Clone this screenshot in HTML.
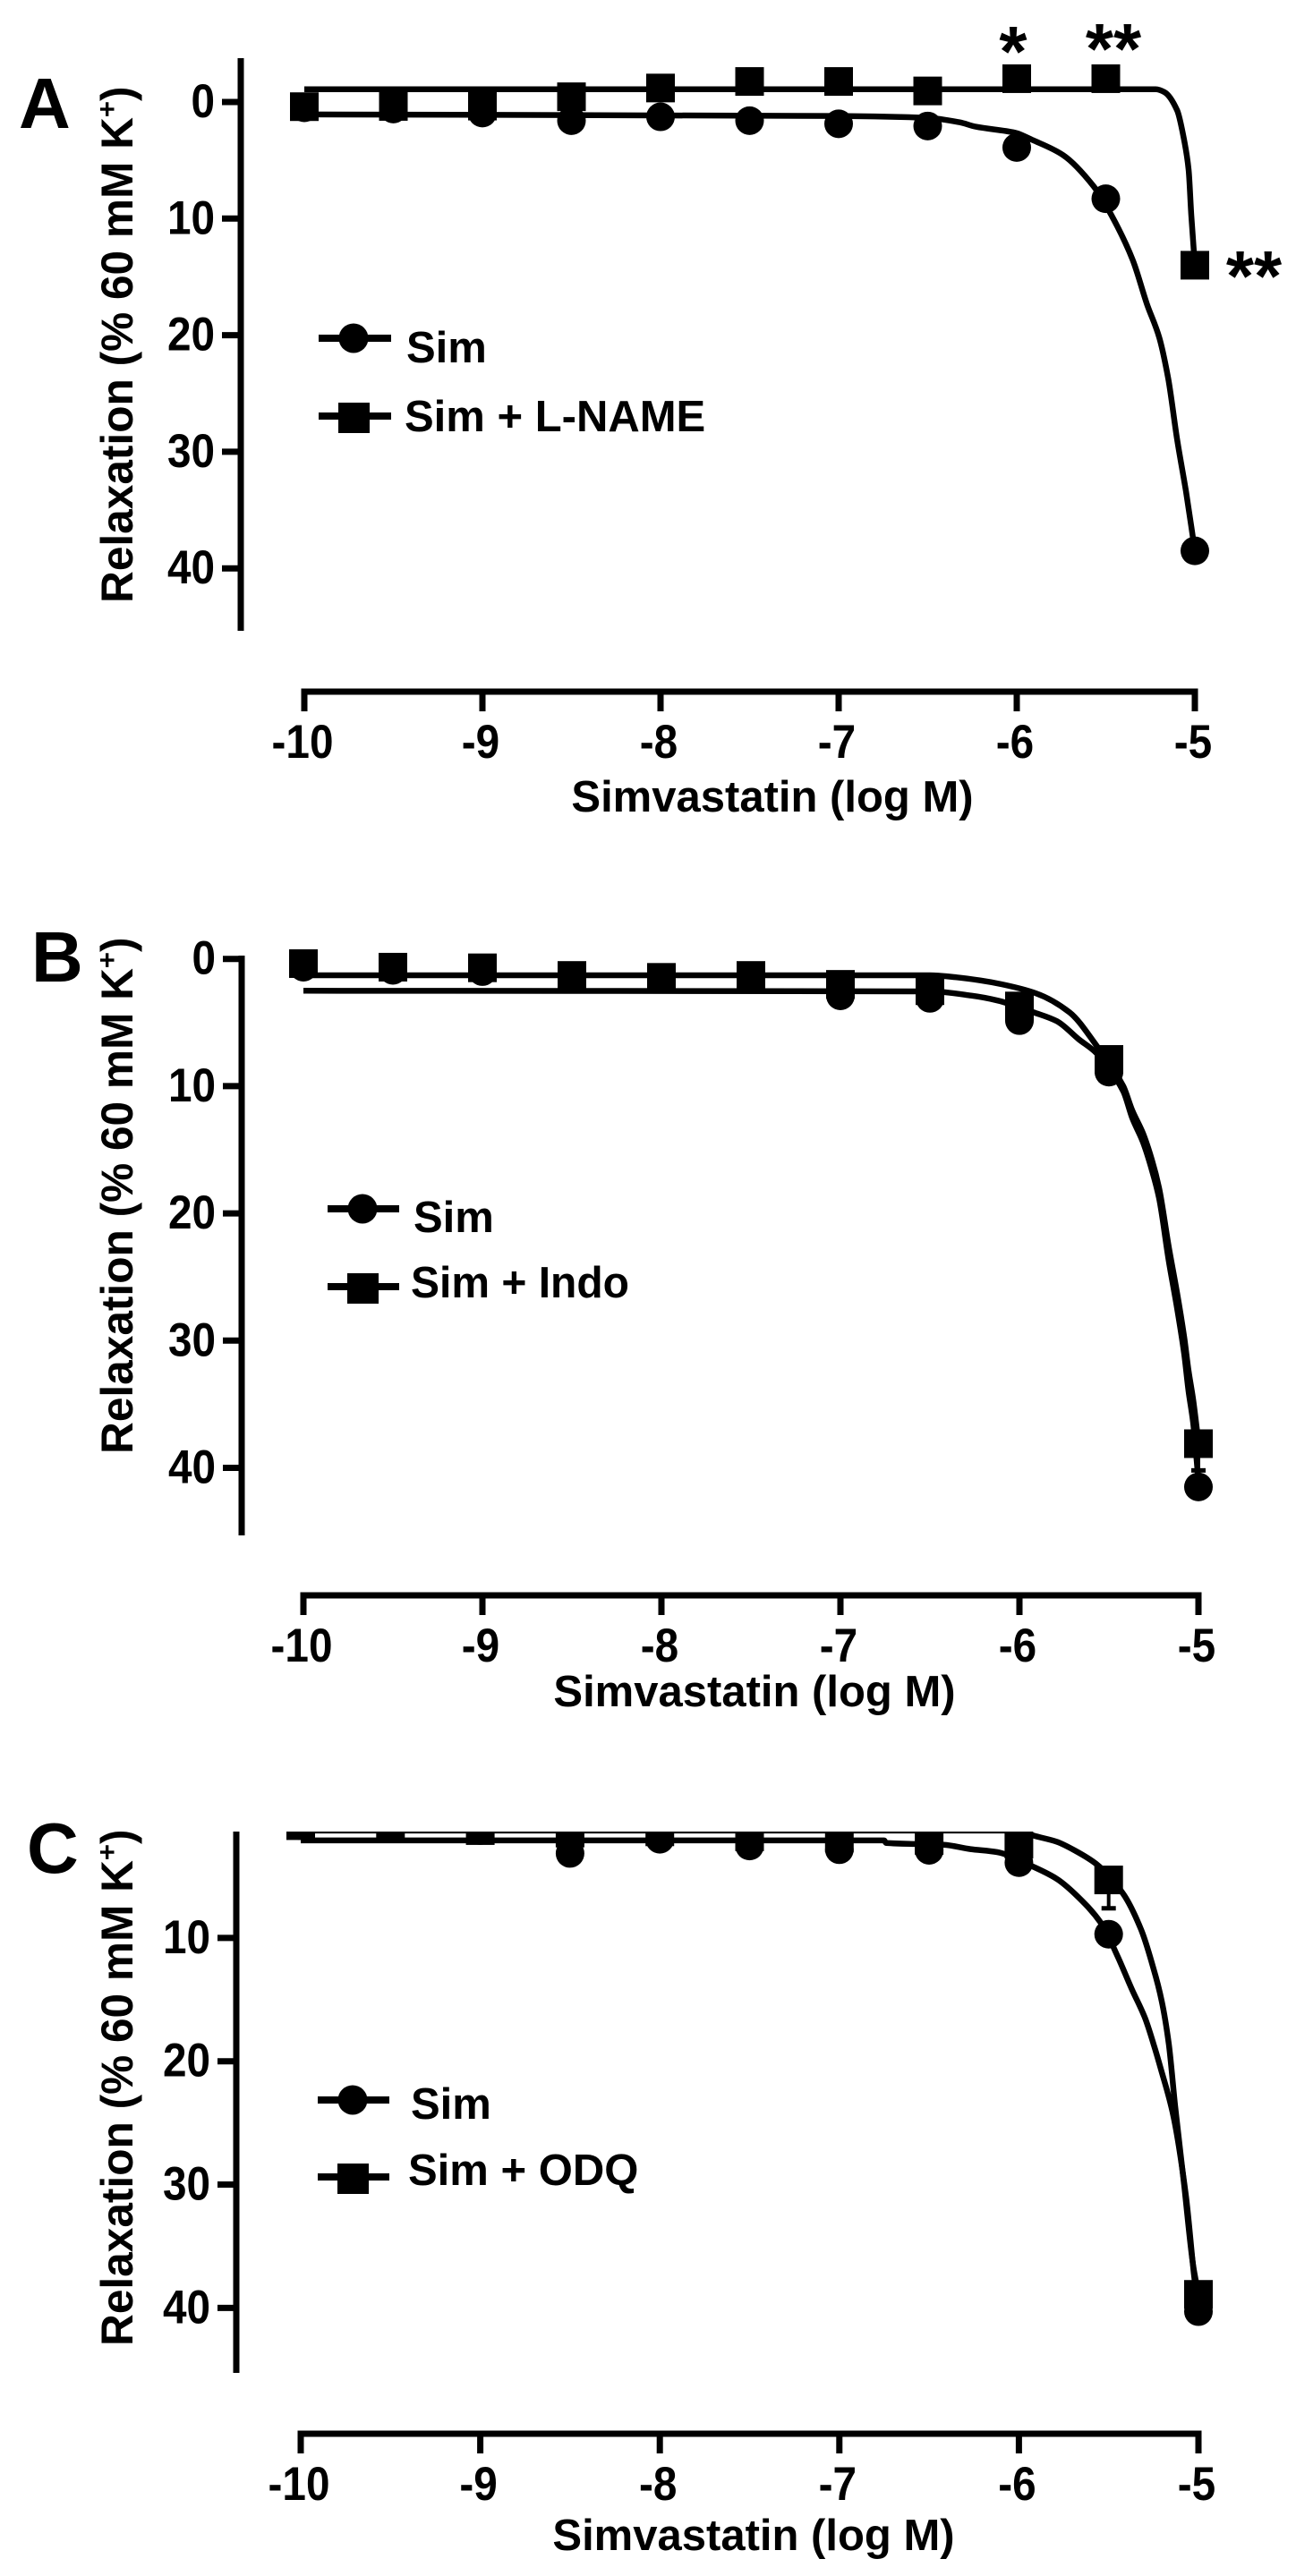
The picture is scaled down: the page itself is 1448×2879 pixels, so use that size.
<!DOCTYPE html>
<html lang="en">
<head>
<meta charset="utf-8">
<title>Relaxation vs Simvastatin</title>
<style>
html,body{margin:0;padding:0;background:#fff;width:1448px;height:2879px;overflow:hidden}
svg{display:block}
text{font-family:"Liberation Sans",Arial,sans-serif;font-weight:bold;fill:#000}
.letter{font-size:80px}
.axis-title{font-size:49px}
.legend-text{font-size:49px}
.star{font-size:80px}
</style>
</head>
<body>
<svg id="figure" xmlns="http://www.w3.org/2000/svg" width="1448" height="2879" viewBox="0 0 1448 2879">
  <defs>
    <clipPath id="clip-c"><rect x="300" y="2047" width="1148" height="832"></rect></clipPath>
  </defs>
  <rect x="0" y="0" width="1448" height="2879" fill="#fff"></rect>

  <g id="panel-a">
    <text class="letter" x="21" y="143">A</text>
    <text class="axis-title" style="font-size:49.6px" transform="translate(148,674) rotate(-90)">Relaxation (% 60 mM K<tspan dy="-18" font-size="31">+</tspan><tspan dy="18">)</tspan></text>
    <text class="axis-title" text-anchor="middle" x="863" y="907">Simvastatin (log M)</text>
    <g>
      <line x1="356" x2="437" y1="378" y2="378" stroke="#000" stroke-width="8"></line>
      <circle cx="395" cy="378" r="16.5" fill="#000"></circle>
      <text class="legend-text" x="454" y="405">Sim</text>
      <line x1="356" x2="437" y1="465" y2="465" stroke="#000" stroke-width="8"></line>
      <rect x="378" y="450" width="35" height="34" fill="#000"></rect>
      <text class="legend-text" x="452" y="482">Sim + L-NAME</text>
    </g>
    <text class="star" text-anchor="middle" x="1132" y="85">*</text>
    <text class="star" text-anchor="middle" x="1244" y="82">**</text>
    <text class="star" text-anchor="middle" x="1401" y="336">**</text>
  </g>

  <g id="panel-b">
    <text class="letter" x="35" y="1097">B</text>
    <text class="axis-title" style="font-size:49.6px" transform="translate(148,1625) rotate(-90)">Relaxation (% 60 mM K<tspan dy="-18" font-size="31">+</tspan><tspan dy="18">)</tspan></text>
    <text class="axis-title" text-anchor="middle" x="843" y="1907">Simvastatin (log M)</text>
    <g>
      <line x1="366" x2="446" y1="1351" y2="1351" stroke="#000" stroke-width="8"></line>
      <circle cx="405" cy="1351" r="16.5" fill="#000"></circle>
      <text class="legend-text" x="462" y="1377">Sim</text>
      <line x1="366" x2="446" y1="1438" y2="1438" stroke="#000" stroke-width="8"></line>
      <rect x="388" y="1423" width="35" height="34" fill="#000"></rect>
      <text class="legend-text" x="459" y="1450" textLength="244" lengthAdjust="spacingAndGlyphs">Sim + Indo</text>
    </g>
  </g>

  <g id="panel-c">
    <text class="letter" x="30" y="2093">C</text>
    <text class="axis-title" style="font-size:49.6px" transform="translate(148,2622) rotate(-90)">Relaxation (% 60 mM K<tspan dy="-18" font-size="31">+</tspan><tspan dy="18">)</tspan></text>
    <text class="axis-title" text-anchor="middle" x="842" y="2850">Simvastatin (log M)</text>
    <g>
      <line x1="355" x2="435" y1="2347" y2="2347" stroke="#000" stroke-width="8"></line>
      <circle cx="394" cy="2347" r="16.5" fill="#000"></circle>
      <text class="legend-text" x="459" y="2368">Sim</text>
      <line x1="355" x2="435" y1="2433" y2="2433" stroke="#000" stroke-width="8"></line>
      <rect x="377" y="2418" width="35" height="34" fill="#000"></rect>
      <text class="legend-text" x="456" y="2442">Sim + ODQ</text>
    </g>
  </g>
</svg>

<script>
// Shared categories and tick labels
const doses = [-10, -9.5, -9, -8.5, -8, -7.5, -7, -6.5, -6, -5.5, -5];
const xTickValues = [-10, -9, -8, -7, -6, -5];
const xTickLabels = ['-10', '-9', '-8', '-7', '-6', '-5'];
const yTickValuesAB = [0, 10, 20, 30, 40];
const yTickValuesC = [10, 20, 30, 40];

// Panel A: measured points
const aSimValues = [0.5, 0.6, 0.95, 1.6, 1.27, 1.6, 1.87, 2.06, 3.9, 8.3, 38.5];
const aLnameValues = [0.4, 0.38, 0.35, -0.45, -1.2, -1.76, -1.76, -0.95, -2.0, -2.0, 14.0];
// Panel A: fitted curves
const aSimCurveDose = [-10, -7, -6.5, -6.32, -6.23, -6.01, -5.91, -5.74, -5.57, -5.47, -5.35, -5.27, -5.2, -5.15, -5.1, -5.05, -5.02, -5];
const aSimCurveValue = [1.07, 1.2, 1.36, 1.74, 2.12, 2.63, 3.27, 4.55, 7.2, 9.67, 13.5, 17.3, 20.2, 23.7, 28.9, 33.4, 36.4, 38.5];
const aLnameCurveDose = [-10, -5.22, -5.17, -5.1, -5.06, -5.035, -5.02, -5];
const aLnameCurveValue = [-1.1, -1.1, -0.84, 0.7, 3.3, 5.8, 9.7, 14.0];

// Panel B: measured points
const bSimValues = [0.65, 0.9, 1.0, 1.5, 1.5, 1.4, 2.9, 3.1, 4.85, 8.9, 41.5];
const bIndoValues = [0.37, 0.65, 0.7, 1.3, 1.45, 1.3, 2.0, 2.5, 3.7, 7.9, 38.1];
// Panel B: fitted curves
const bSimCurveDose = [-10, -6.5, -6.27, -6.12, -5.92, -5.79, -5.67, -5.57, -5.42, -5.37, -5.31, -5.26, -5.22, -5.165, -5.12, -5.08, -5.055, -5.03, -5];
const bSimCurveValue = [2.5, 2.55, 2.88, 3.28, 4.2, 4.9, 6.3, 7.4, 10.4, 12.5, 14.4, 16.6, 18.8, 23.8, 27.4, 31.0, 34.0, 36.4, 41.0];
const bIndoCurveDose = [-10, -6.5, -6.35, -6.22, -6.1, -5.91, -5.72, -5.57, -5.42, -5.37, -5.31, -5.26, -5.22, -5.165, -5.12, -5.08, -5.055, -5.03, -5];
const bIndoCurveValue = [1.29, 1.29, 1.45, 1.69, 1.99, 2.69, 4.2, 6.8, 10.0, 11.9, 13.7, 15.8, 18.0, 22.7, 26.2, 29.7, 32.4, 34.6, 38.0];

// Panel C: measured points
const cSimValues = [0.9, 0.9, 1.3, 3.15, 2.0, 2.55, 2.85, 2.9, 3.9, 9.7, 40.3];
const cOdqValues = [0.9, 0.9, 1.3, 1.5, 1.4, 1.8, 1.9, 2.1, 2.4, 5.3, 38.9];
// Panel C: fitted curves
const cSimCurveDose = [-10, -6.75, -6.74, -6.42, -6.27, -6.12, -5.94, -5.79, -5.69, -5.54, -5.45, -5.37, -5.3, -5.25, -5.21, -5.14, -5.07, -5.025, -5];
const cSimCurveValue = [2.1, 2.1, 2.3, 2.45, 2.8, 3.05, 4.1, 5.2, 6.4, 8.85, 11.5, 14.2, 16.4, 18.6, 20.6, 24.4, 30.9, 37.3, 40.3];
const cOdqCurveDose = [-10, -6.0, -5.92, -5.79, -5.69, -5.57, -5.42, -5.32, -5.25, -5.205, -5.165, -5.13, -5.08, -5.03, -5];
const cOdqCurveValue = [1.3, 1.3, 1.7, 2.2, 2.9, 4.0, 6.4, 9.3, 12.5, 15.1, 18.6, 23.6, 30.0, 36.5, 38.9];

// Error bars: dose, marker value and whisker cap value
const cErrorDose = [-5.5];
const cErrorFrom = [5.3];
const cErrorTo = [7.6];
const bErrorDose = [-5];
const bErrorFrom = [38.1];
const bErrorTo = [40.2];

const SVG_NS = 'http://www.w3.org/2000/svg';

function mk(parent, tag, attrs) {
  const el = document.createElementNS(SVG_NS, tag);
  Object.keys(attrs).forEach(function (k) { el.setAttribute(k, attrs[k]); });
  parent.appendChild(el);
  return el;
}

// Monotone cubic path through the read curve points, so flat runs stay flat.
function smoothPath(px, py) {
  const n = px.length;
  const sec = [];
  for (let i = 0; i < n - 1; i++) sec.push((py[i + 1] - py[i]) / (px[i + 1] - px[i]));
  const m = [sec[0]];
  for (let i = 1; i < n - 1; i++) {
    m.push(sec[i - 1] * sec[i] <= 0 ? 0 : 2 * sec[i - 1] * sec[i] / (sec[i - 1] + sec[i]));
  }
  m.push(sec[n - 2]);
  let d = 'M' + px[0].toFixed(1) + ' ' + py[0].toFixed(1);
  for (let i = 0; i < n - 1; i++) {
    const h = (px[i + 1] - px[i]) / 3;
    d += ' C' + (px[i] + h).toFixed(1) + ' ' + (py[i] + m[i] * h).toFixed(1) + ' ' +
      (px[i + 1] - h).toFixed(1) + ' ' + (py[i + 1] - m[i + 1] * h).toFixed(1) + ' ' +
      px[i + 1].toFixed(1) + ' ' + py[i + 1].toFixed(1);
  }
  return d;
}

function drawPanel(cfg) {
  const root = document.getElementById(cfg.id);
  const sx = function (d) { return cfg.x0 + (d + 10) * cfg.xUnit; };
  const sy = function (v) { return cfg.y0 + v * cfg.yUnit; };

  const yAxis = mk(root, 'line', { x1: cfg.axisX, x2: cfg.axisX, y1: cfg.axisTop, y2: cfg.axisBottom, stroke: '#000', 'stroke-width': 7 });
  
  

  cfg.yTicks.forEach(function (v) {
    const tick = mk(root, 'line', { x1: cfg.axisX - 21, x2: cfg.axisX, y1: sy(v), y2: sy(v), stroke: '#000', 'stroke-width': 7 });
    
    
    const label = mk(root, 'text', { 'text-anchor': 'end', 'font-size': 53, transform: 'translate(' + (cfg.axisX - 29) + ',' + (sy(v) + 17) + ') scale(0.9,1)' });
    
    
    label.textContent = String(v);
  });

  const xAxis = mk(root, 'line', { x1: sx(-10) - 3.5, x2: sx(-5) + 3.5, y1: cfg.axisY, y2: cfg.axisY, stroke: '#000', 'stroke-width': 7 });
  
  

  xTickValues.forEach(function (d, i) {
    const tick = mk(root, 'line', { x1: sx(d), x2: sx(d), y1: cfg.axisY, y2: cfg.axisY + 22, stroke: '#000', 'stroke-width': 7 });
    
    
    const label = mk(root, 'text', { 'text-anchor': 'middle', 'font-size': 53, transform: 'translate(' + (sx(d) - 2) + ',' + (cfg.axisY + 74) + ') scale(0.9,1)' });
    
    
    label.textContent = xTickLabels[i];
  });

  const plot = mk(root, 'g', cfg.clip ? { 'clip-path': 'url(#' + cfg.clip + ')' } : {});
  
  

  cfg.series.forEach(function (s) {
    const d = smoothPath(s.curveDose.map(sx), s.curveValue.map(sy));
    const curve = mk(plot, 'path', { d: d, fill: 'none', stroke: '#000', 'stroke-width': 6.5, 'stroke-linejoin': 'round' });
    
    
  });

  (cfg.errors || []).forEach(function (e) {
    e.dose.forEach(function (dose, i) {
      const stem = mk(plot, 'line', { x1: sx(dose), x2: sx(dose), y1: sy(e.from[i]), y2: sy(e.to[i]), stroke: '#000', 'stroke-width': 4 });
      
      
      const cap = mk(plot, 'line', { x1: sx(dose) - 8, x2: sx(dose) + 8, y1: sy(e.to[i]), y2: sy(e.to[i]), stroke: '#000', 'stroke-width': 5 });
      
      
    });
  });

  cfg.series.forEach(function (s) {
    doses.forEach(function (dose, i) {
      const x = sx(dose);
      const y = sy(s.values[i]);
      if (s.shape === 'circle') {
        const c = mk(plot, 'circle', { cx: x, cy: y, r: 16, fill: '#000' });
        
        
      } else {
        const r = mk(plot, 'rect', { x: x - 16, y: y - 16, width: 32, height: 32, fill: '#000' });
        
        
      }
    });
  });
}

drawPanel({
  id: 'panel-a', x0: 340, xUnit: 199, y0: 114, yUnit: 13.03,
  axisX: 269, axisTop: 65, axisBottom: 705, axisY: 773,
  yTicks: yTickValuesAB,
  series: [
    { name: 'sim', shape: 'circle', values: aSimValues, curveDose: aSimCurveDose, curveValue: aSimCurveValue },
    { name: 'sim-lname', shape: 'square', values: aLnameValues, curveDose: aLnameCurveDose, curveValue: aLnameCurveValue }
  ]
});

drawPanel({
  id: 'panel-b', x0: 339, xUnit: 200, y0: 1071.7, yUnit: 14.22,
  axisX: 270, axisTop: 1068, axisBottom: 1716, axisY: 1783,
  yTicks: yTickValuesAB,
  errors: [{ dose: bErrorDose, from: bErrorFrom, to: bErrorTo }],
  series: [
    { name: 'sim', shape: 'circle', values: bSimValues, curveDose: bSimCurveDose, curveValue: bSimCurveValue },
    { name: 'sim-indo', shape: 'square', values: bIndoValues, curveDose: bIndoCurveDose, curveValue: bIndoCurveValue }
  ]
});

drawPanel({
  id: 'panel-c', x0: 336, xUnit: 200.6, y0: 2028, yUnit: 13.785,
  axisX: 264, axisTop: 2047, axisBottom: 2652, axisY: 2720,
  yTicks: yTickValuesC, clip: 'clip-c',
  errors: [{ dose: cErrorDose, from: cErrorFrom, to: cErrorTo }],
  series: [
    { name: 'sim', shape: 'circle', values: cSimValues, curveDose: cSimCurveDose, curveValue: cSimCurveValue },
    { name: 'sim-odq', shape: 'square', values: cOdqValues, curveDose: cOdqCurveDose, curveValue: cOdqCurveValue }
  ]
});
</script>
</body>
</html>
